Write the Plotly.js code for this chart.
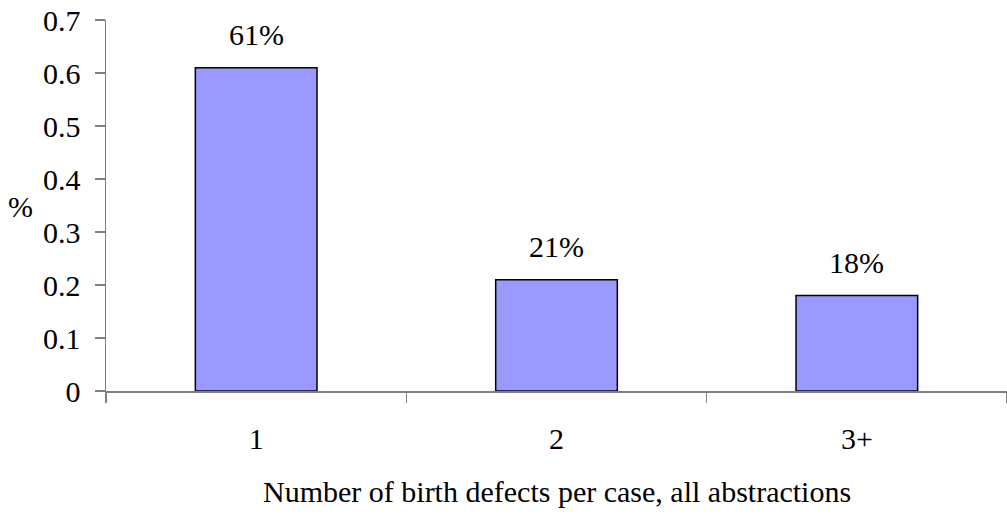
<!DOCTYPE html>
<html><head><meta charset="utf-8">
<script src="https://cdn.plot.ly/plotly-3.0.1.min.js"></script>
<style>html,body{margin:0;padding:0;background:#fff}</style>
</head><body>
<div id="chart" style="width:1007px;height:515px"></div>
<script>
const categories = ["1", "2", "3+"];
const values = [0.61, 0.21, 0.18];
const labels = ["61%", "21%", "18%"];
const yTicks = [0, 0.1, 0.2, 0.3, 0.4, 0.5, 0.6, 0.7];
const yTickText = ["0", "0.1", "0.2", "0.3", "0.4", "0.5", "0.6", "0.7"];

const font = {family: "Times New Roman, Liberation Serif, serif", size: 30, color: "#000"};

const trace = {
  type: "bar",
  x: categories,
  y: values,
  cliponaxis: false,
  width: 0.405,
  marker: {color: "#9999FF", line: {color: "#000", width: 1.5}},
  hoverinfo: "none"
};

const valueLabels = categories.map((c, i) => ({
  text: labels[i], x: i, y: values[i], xref: "x", yref: "y",
  xanchor: "center", yanchor: "middle", yshift: 33,
  showarrow: false, font: font
}));

const layout = {
  width: 1007, height: 515,
  margin: {l: 106, r: 0, t: 20, b: 124},
  paper_bgcolor: "#fff", plot_bgcolor: "#fff",
  font: font,
  showlegend: false,
  xaxis: {
    type: "category",
    range: [-0.5, 2.5],
    showline: true, linecolor: "#808080", linewidth: 1.5,
    ticks: "outside", tickson: "boundaries", ticklen: 10, tickcolor: "#808080", tickwidth: 1.5,
    ticklabelstandoff: 20,
    showgrid: false, zeroline: false,
    tickfont: font
  },
  yaxis: {
    range: [0, 0.7],
    tickvals: yTicks, ticktext: yTickText,
    showline: true, linecolor: "#808080", linewidth: 1.5,
    ticks: "outside", ticklen: 10, tickcolor: "#808080", tickwidth: 1.5,
    ticklabelstandoff: 8,
    showgrid: false, zeroline: false,
    tickfont: font
  },
  annotations: valueLabels.concat([
    {text: "%", xref: "paper", yref: "paper", x: -0.095, y: 0.497, xanchor: "center", yanchor: "middle", showarrow: false, font: font},
    {text: "Number of birth defects per case, all abstractions", xref: "paper", yref: "paper", x: 0.5, y: -0.272, xanchor: "center", yanchor: "middle", showarrow: false, font: font}
  ])
};

Plotly.newPlot("chart", [trace], layout, {displayModeBar: false, staticPlot: true});
</script>
</body></html>
